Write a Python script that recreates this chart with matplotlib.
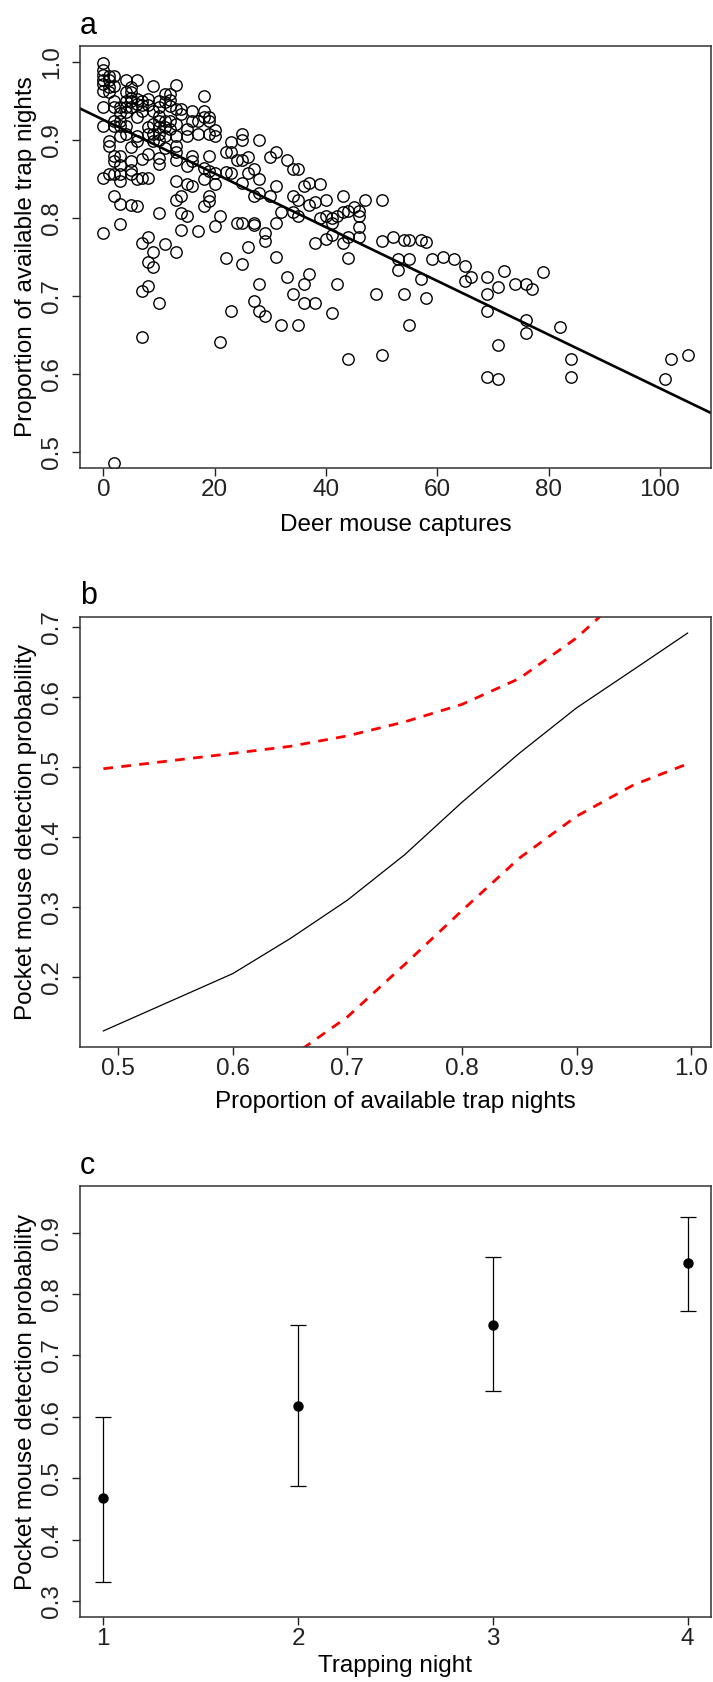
import matplotlib
matplotlib.use("Agg")
import matplotlib.pyplot as plt

plt.rcParams['font.family'] = ['Liberation Sans', 'DejaVu Sans']

# panel a: deer mouse captures vs proportion of available trap nights
deer_x = [0, 0, 0, 0, 0, 0, 1, 1, 1, 1, 2, 2, 4, 6, 5, 5, 5, 4, 9, 13, 18, 0,
          2, 2, 3, 3, 4, 4, 4, 5, 5, 6, 6, 7, 7, 7, 8, 8, 9,
          10, 10, 10, 10, 10, 10, 10, 11, 11, 12, 12, 12, 13, 14, 14, 16, 16,
          17, 18, 18, 19, 19, 20, 20, 0, 1, 1, 2, 2, 3, 3, 3, 4, 4, 5,
          6, 6, 6, 8, 8, 9, 9, 9, 11, 11, 11, 12, 12, 13, 13, 13, 15, 15,
          17, 19, 2, 2, 3, 3, 5, 5, 7, 8, 10, 10, 11, 13, 13, 15, 16, 16,
          18, 19,
          0, 3, 2, 3, 5, 6, 10, 0, 3, 7, 8, 9, 11, 13, 8, 9, 8, 7, 10, 13,
          14, 14, 15, 17, 18, 19, 19, 20, 14, 20, 18, 16, 15, 13, 6, 7, 8,
          5, 3, 2, 1,
          7, 21, 2,
          25, 25, 28, 23, 22, 23, 24, 25, 26, 30, 31, 33, 34, 35, 19, 20, 22,
          23, 26, 27, 25, 28, 31, 27, 28, 30, 36, 37, 39, 34, 35, 37, 38, 40,
          43, 47, 32, 34, 35, 39, 40, 41, 42, 43, 44, 45, 46, 46, 41, 46, 21,
          24, 25, 27, 27, 31, 29, 29, 38, 40, 41, 43, 46, 44, 26, 22, 31, 44,
          25, 28, 33, 37, 36, 42, 34, 27, 23, 28, 29, 36, 38, 41, 32, 35, 44,
          50, 50, 52, 54, 55, 57, 58, 53, 55, 59, 61, 63, 53, 57, 65, 66, 65,
          69, 72, 74, 76, 77, 79, 69, 71, 69, 76, 76, 82, 49, 54, 58, 55, 71,
          50, 69, 71,
          84, 84, 101, 102, 105]
deer_y = [0.998, 0.989, 0.983, 0.977, 0.971, 0.962, 0.982, 0.976, 0.967, 0.961,
          0.982, 0.969, 0.976, 0.976, 0.967, 0.961, 0.953, 0.961, 0.969, 0.970,
          0.956, 0.942,
          0.950, 0.942, 0.942, 0.934, 0.950, 0.942, 0.936, 0.949, 0.942, 0.952,
          0.946, 0.950, 0.944, 0.937, 0.952, 0.944, 0.937,
          0.950, 0.942, 0.931, 0.924, 0.916, 0.907, 0.900, 0.958, 0.948, 0.958,
          0.951, 0.943, 0.939, 0.939, 0.933, 0.937, 0.924,
          0.924, 0.937, 0.929, 0.929, 0.924, 0.912, 0.905, 0.917, 0.899, 0.892,
          0.924, 0.917, 0.924, 0.918, 0.905, 0.917, 0.907, 0.891,
          0.929, 0.905, 0.898, 0.916, 0.908, 0.920, 0.907, 0.899, 0.924, 0.916,
          0.905, 0.924, 0.914, 0.920, 0.905, 0.892, 0.914, 0.905,
          0.907, 0.907, 0.879, 0.873, 0.879, 0.868, 0.873, 0.861, 0.875, 0.882,
          0.877, 0.869, 0.890, 0.884, 0.874, 0.867, 0.879, 0.873,
          0.864, 0.879,
          0.851, 0.847, 0.828, 0.818, 0.817, 0.815, 0.806, 0.781, 0.792, 0.768,
          0.775, 0.756, 0.766, 0.756, 0.744, 0.737, 0.713, 0.706, 0.691, 0.823,
          0.828, 0.806, 0.803, 0.783, 0.815, 0.822, 0.828, 0.790, 0.784, 0.844,
          0.850, 0.841, 0.844, 0.847, 0.850, 0.851, 0.851,
          0.856, 0.856, 0.856, 0.856,
          0.647, 0.641, 0.486,
          0.907, 0.900, 0.900, 0.897, 0.884, 0.884, 0.874, 0.874, 0.878, 0.878,
          0.884, 0.874, 0.863, 0.863, 0.860, 0.858, 0.859,
          0.857, 0.857, 0.862, 0.845, 0.850, 0.841, 0.828, 0.832, 0.828, 0.841,
          0.845, 0.843, 0.828, 0.823, 0.817, 0.821, 0.823,
          0.828, 0.823, 0.807, 0.807, 0.803, 0.800, 0.803, 0.800, 0.803, 0.807,
          0.809, 0.814, 0.809, 0.803, 0.794, 0.788, 0.803,
          0.794, 0.794, 0.794, 0.791, 0.794, 0.781, 0.771, 0.768, 0.773, 0.778,
          0.768, 0.776, 0.776, 0.763, 0.749, 0.750, 0.749,
          0.741, 0.716, 0.725, 0.728, 0.716, 0.716, 0.703, 0.694, 0.681, 0.681,
          0.675, 0.691, 0.691, 0.678, 0.663, 0.663, 0.619,
          0.823, 0.770, 0.775, 0.772, 0.772, 0.772, 0.769, 0.748, 0.748, 0.748,
          0.750, 0.748, 0.734, 0.722, 0.738, 0.725, 0.719,
          0.725, 0.732, 0.716, 0.716, 0.709, 0.731, 0.703, 0.711, 0.681, 0.669,
          0.653, 0.661, 0.703, 0.703, 0.697, 0.663, 0.638,
          0.625, 0.597, 0.594,
          0.619, 0.597, 0.594, 0.619, 0.625]
fit_intercept = 0.9256
fit_slope = -0.003436

# panel b: fitted detection probability with confidence limits
prop_x = [0.487, 0.60, 0.65, 0.70, 0.75, 0.80, 0.85, 0.90, 0.95, 0.997]
det_fit = [0.123, 0.205, 0.255, 0.310, 0.375, 0.450, 0.520, 0.585, 0.640, 0.692]
det_upper = [0.498, 0.520, 0.530, 0.545, 0.565, 0.590, 0.627, 0.685, 0.760, 0.850]
det_lower = [-0.08, 0.040, 0.085, 0.143, 0.218, 0.295, 0.370, 0.430, 0.475, 0.505]

# panel c: detection probability by trapping night
night = [1, 2, 3, 4]
night_p = [0.468, 0.618, 0.750, 0.850]
night_lo = [0.331, 0.487, 0.642, 0.773]
night_hi = [0.600, 0.750, 0.860, 0.926]

W, H = 713, 1682
FS = 17.5


def box(l, r, t, b):
    return [l / W, 1 - b / H, (r - l) / W, (b - t) / H]


def style(ax, letter, xlabel, ylabel, height, xlab_gap):
    for s in ax.spines.values():
        s.set_linewidth(1.1)
        s.set_color('#333333')
    ax.tick_params(direction='out', length=6, width=1.0, labelsize=FS,
                   colors='#222222')
    ax.tick_params(axis='x', pad=2)
    ax.tick_params(axis='y', pad=6, labelrotation=90)
    for t in ax.get_yticklabels():
        t.set_va('center')
    ax.set_xlabel(xlabel, fontsize=FS)
    ax.set_ylabel(ylabel, fontsize=FS)
    # label positions in pixels from the box
    ax.xaxis.set_label_coords(0.5, -xlab_gap / height)
    ax.yaxis.set_label_coords(-43 / 631, 0.5)
    ax.set_title(letter, loc='left', fontsize=22, pad=9)


fig = plt.figure(figsize=(W / 100, H / 100), dpi=100)

# a
ax1 = fig.add_axes(box(80, 711, 46, 468))
ax1.plot(deer_x, deer_y, 'o', mfc='none', mec='black', ms=8.2, mew=1.0)
ax1.axline((0, fit_intercept), slope=fit_slope, color='black', lw=1.9)
ax1.set_xlim(-4.2, 109.2)
ax1.set_ylim(0.48, 1.02)
ax1.set_xticks([0, 20, 40, 60, 80, 100])
ax1.set_yticks([0.5, 0.6, 0.7, 0.8, 0.9, 1.0])
style(ax1, 'a', 'Deer mouse captures', 'Proportion of available trap nights',
      422, 46)

# b
ax2 = fig.add_axes(box(80, 711, 617, 1047))
ax2.plot(prop_x, det_fit, color='black', lw=0.9)
ax2.plot(prop_x, det_upper, color='red', lw=2, dashes=(3.5, 3))
ax2.plot(prop_x, det_lower, color='red', lw=2, dashes=(3.5, 3))
ax2.set_xlim(0.4666, 1.0174)
ax2.set_ylim(0.100, 0.715)
ax2.set_xticks([0.5, 0.6, 0.7, 0.8, 0.9, 1.0])
ax2.set_yticks([0.2, 0.3, 0.4, 0.5, 0.6, 0.7])
style(ax2, 'b', 'Proportion of available trap nights',
      'Pocket mouse detection probability', 430, 44)

# c
ax3 = fig.add_axes(box(80, 711, 1186, 1617))
err_lo = [p - lo for p, lo in zip(night_p, night_lo)]
err_hi = [hi - p for p, hi in zip(night_p, night_hi)]
ax3.errorbar(night, night_p, yerr=[err_lo, err_hi], fmt='o', color='black',
             ms=6.5, elinewidth=0.9, capsize=5.8, capthick=0.9)
ax3.set_xlim(0.88, 4.12)
ax3.set_ylim(0.274, 0.976)
ax3.set_xticks(night)
ax3.set_yticks([0.3, 0.4, 0.5, 0.6, 0.7, 0.8, 0.9])
style(ax3, 'c', 'Trapping night', 'Pocket mouse detection probability',
      431, 38)

fig.savefig('out.png', dpi=100)
